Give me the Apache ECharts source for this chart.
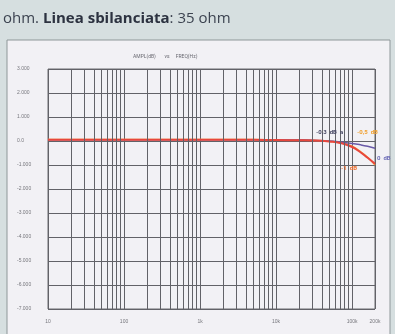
<!DOCTYPE html>
<html>
<head>
<meta charset="utf-8">
<script src="https://cdn.jsdelivr.net/npm/echarts@6/dist/echarts.min.js"></script>
<style>
  html, body { margin: 0; padding: 0; background: #d6dfe0; }
  #chart { width: 395px; height: 334px; }
</style>
</head>
<body>
<div id="chart"></div>
<script>
// frequencies (Hz) and levels (dB)
const freqs = [10, 20, 50, 100, 200, 500, 1000, 2000, 5000, 10000, 20000, 30000, 50000, 70000, 100000, 130000, 160000, 200000];
const redDb = [0.05, 0.05, 0.05, 0.05, 0.05, 0.05, 0.05, 0.05, 0.05, 0.04, 0.03, 0.02, -0.02, -0.08, -0.25, -0.48, -0.7, -0.95];
const orangeDb = [0.06, 0.06, 0.06, 0.06, 0.06, 0.06, 0.06, 0.06, 0.06, 0.05, 0.04, 0.03, -0.01, -0.07, -0.22, -0.45, -0.68, -1.0];
const purpleDb = [0.05, 0.05, 0.05, 0.05, 0.05, 0.05, 0.05, 0.05, 0.05, 0.05, 0.04, 0.03, 0.0, -0.04, -0.1, -0.16, -0.22, -0.3];
const xTickLabels = { 10: "10", 100: "100", 1000: "1k", 10000: "10k", 100000: "100k", 200000: "200k" };

const pairs = (ys) => freqs.map((f, i) => [f, ys[i]]);

// minor vertical grid lines at 2..9 of every decade
const minorLines = [];
[10, 100, 1000, 10000].forEach((d) => {
  for (let m = 2; m <= 9; m++) minorLines.push({ xAxis: d * m });
});

const chart = echarts.init(document.getElementById("chart"));
chart.setOption({
  animation: false,
  title: {
    text: "{a|ohm. }{b|Linea sbilanciata}{a|: 35 ohm}",
    left: -2,
    top: 6,
    textStyle: {
      rich: {
        a: { fontFamily: "Open Sans", fontSize: 15, fontWeight: "normal", color: "#3c4350" },
        b: { fontFamily: "Open Sans", fontSize: 15, fontWeight: "bold", color: "#2c3240" },
      },
    },
  },
  graphic: [
    { type: "rect", z: -10, shape: { x: 7, y: 40, width: 383, height: 300 }, style: { fill: "#f2f1f5", stroke: "#8e9799", lineWidth: 1 } },
    { type: "text", left: 133, top: 54, style: { text: "AMPL(dB)       vs     FREQ(Hz)", font: "5px Roboto", fill: "#6a6a72" } },
    { type: "text", left: 316, top: 129, z: 100, style: { text: "-0,3  dB  a", font: "bold 6px Roboto", fill: "#4a4a66" } },
    { type: "text", left: 357, top: 129, z: 100, style: { text: "-0,5  dB", font: "bold 6px Roboto", fill: "#f0a030" } },
    { type: "text", left: 377, top: 155, z: 100, style: { text: "0  dB", font: "bold 6px Roboto", fill: "#6f6fb8" } },
    { type: "text", left: 341, top: 165, z: 100, style: { text: "-1  dB", font: "bold 6px Roboto", fill: "#f07030" } },
  ],
  grid: { left: 48, right: 20, top: 69, bottom: 25, show: true, borderColor: "#6c6c70", borderWidth: 1 },
  xAxis: {
    type: "log",
    logBase: 10,
    min: 10,
    max: 200000,
    axisLine: { show: false },
    axisTick: { show: false },
    splitLine: { show: true, lineStyle: { color: "#626268", width: 1 } },
    axisLabel: {
      fontSize: 5,
      color: "#77777d",
      margin: 10,
      showMaxLabel: true,
      formatter: (v) => xTickLabels[v] || "",
    },
  },
  yAxis: {
    type: "value",
    min: -7,
    max: 3,
    interval: 1,
    axisLine: { show: false },
    axisTick: { show: false },
    splitLine: { lineStyle: { color: "#626268", width: 1 } },
    axisLabel: {
      fontSize: 5,
      color: "#77777d",
      align: "left",
      margin: 31,
      formatter: (v) => (v === 0 ? "0.0" : v.toFixed(3)),
    },
  },
  series: [
    {
      type: "line",
      data: pairs(orangeDb),
      showSymbol: false,
      smooth: true,
      lineStyle: { color: "#f39a3a", width: 1.5 },
      markLine: {
        silent: true,
        symbol: ["none", "none"],
        label: { show: false },
        lineStyle: { color: "#626268", width: 1, type: "solid" },
        data: minorLines,
      },
    },
    {
      type: "line",
      data: pairs(purpleDb),
      showSymbol: false,
      smooth: true,
      lineStyle: { color: "#6a5aa8", width: 1.5 },
    },
    {
      type: "line",
      data: pairs(redDb),
      showSymbol: false,
      smooth: true,
      lineStyle: { color: "#e8463c", width: 2 },
    },
  ],
});
</script>
</body>
</html>
